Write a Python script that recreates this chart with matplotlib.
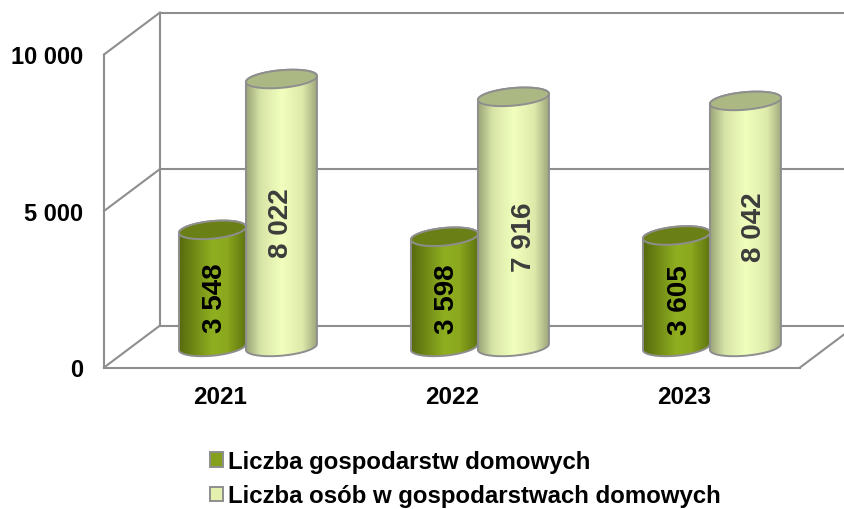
import numpy as np
import matplotlib
matplotlib.use("Agg")
import matplotlib.pyplot as plt
from matplotlib.colors import LinearSegmentedColormap
from matplotlib.patches import PathPatch, Patch
from matplotlib.path import Path

# --- data -------------------------------------------------------------
years = ["2021", "2022", "2023"]
households_labels = ["3 548", "3 598", "3 605"]
people_labels = ["8 022", "7 916", "8 042"]
# heights as they are drawn in the picture (read from the cylinders)
households_drawn = [3740, 3520, 3560]
people_drawn = [8560, 7990, 7860]
y_ticks = [0, 5000, 10000]
y_tick_labels = ["0", "5 000", "10 000"]
series_names = ["Liczba gospodarstw domowych",
                "Liczba osób w gospodarstwach domowych"]

# --- style / layout ---------------------------------------------------
W, H = 845, 510
PX_CAT = 232.0           # pixels per category
PX_VAL = 313.0 / 10000   # pixels per value unit
X0_PX, Y0_PX = 220.0, 368.5   # category 0, value 0 on the front edge
DEPTH_X, DEPTH_Y = 56.0, 42.0  # oblique offset of the back wall, in pixels
BAR_DEPTH = 0.49
LINE = "#8E8E8E"
FONT = "Liberation Sans"
FS_LEGEND = 17.3
FS_TICK = 17.0
FS_CAT = 17.5
FS_VALUE = 20.0

fig = plt.figure(figsize=(W / 100, H / 100), dpi=100, facecolor="white")
ax = fig.add_axes([0, 0, 1, 1])
ax.set_xlim((0 - X0_PX) / PX_CAT, (W - X0_PX) / PX_CAT)
ax.set_ylim((Y0_PX - H) / PX_VAL, Y0_PX / PX_VAL)
ax.axis("off")


def dx(px):
    return px / PX_CAT


def dy(px):
    return px / PX_VAL


def project(x, y, d):
    return x + dx(DEPTH_X) * d, y + dy(DEPTH_Y) * d


def line(p, q, z=1):
    ax.plot([p[0], q[0]], [p[1], q[1]], color=LINE, lw=1.5, zorder=z,
            solid_capstyle="projecting")


# walls
x_left, x_right = -0.5, 2.5
for v in y_ticks:
    line(project(x_left, v, 0), project(x_left, v, 1))
    line(project(x_left, v, 1), project(x_right, v, 1))
line(project(x_left, 0, 0), project(x_left, y_ticks[-1], 0))
line(project(x_left, 0, 1), project(x_left, y_ticks[-1], 1))
line(project(x_left, 0, 0), project(x_right, 0, 0))
line(project(x_right, 0, 0), project(x_right, 0, 1))

# y tick labels
for v, s in zip(y_ticks, y_tick_labels):
    ax.text(project(x_left, 0, 0)[0] - dx(21), v - dy(2.5), s, ha="right",
            va="center", fontsize=FS_TICK, fontweight="bold", family=FONT,
            color="black")
# category labels
for i, s in enumerate(years):
    ax.text(i, -dy(29.5), s, ha="center", va="center", fontsize=FS_CAT,
            fontweight="bold", family=FONT, color="black")

green_cmap = LinearSegmentedColormap.from_list(
    "g", [(0, "#566A0E"), (0.5, "#90AF20"), (0.72, "#8BA81E"), (1, "#5F7410")])
light_cmap = LinearSegmentedColormap.from_list(
    "l", [(0, "#9AA478"), (0.2, "#D6E3A6"), (0.5, "#F1FFBD"),
          (0.8, "#DCE9AA"), (1, "#9DA67A")])
GREEN_TOP, LIGHT_TOP = "#6B7F17", "#ABB884"
gradient = np.linspace(0, 1, 256).reshape(1, -1)


def arc(cx, cy, hw, t):
    sheer = dy(3) / dx(hw)
    xs = cx + dx(hw) * np.cos(t)
    ys = cy + sheer * dx(hw) * np.cos(t) + dy(8.8) * np.sin(t)
    return np.column_stack([xs, ys])


def cylinder(cat, offset_px, hw, value, cmap, top_color, z):
    cx, base = project(cat, 0, BAR_DEPTH)
    cx += dx(offset_px)
    top = base + value
    t_up = np.linspace(0, np.pi, 80)
    t_dn = np.linspace(np.pi, 2 * np.pi, 80)
    outline = np.vstack([arc(cx, top, hw, t_up), arc(cx, base, hw, t_dn)])
    outline = np.vstack([outline, outline[:1]])
    path = Path(outline)
    im = ax.imshow(gradient, cmap=cmap, aspect="auto", zorder=z,
                   extent=[cx - dx(hw), cx + dx(hw), base - dy(12), top + dy(12)])
    edge = PathPatch(path, facecolor="none", edgecolor=LINE, lw=1.4, zorder=z + 0.2)
    ax.add_patch(edge)
    im.set_clip_path(edge)
    ell = arc(cx, top, hw, np.linspace(0, 2 * np.pi, 160))
    ax.fill(ell[:, 0], ell[:, 1], facecolor=top_color, edgecolor=LINE, lw=1.4,
            zorder=z + 0.3)


# fine placement of the value labels relative to each cylinder, in pixels
h_nudge = [(1, -9), (1, -6), (2, -8)]
p_nudge = [(-2, -9), (9, -14), (7, -2)]
GREEN_OFF, LIGHT_OFF = -35.0, 34.0
for i in range(len(years)):
    cylinder(i, GREEN_OFF, 33.5, households_drawn[i], green_cmap, GREEN_TOP, 2 + i)
    cylinder(i, LIGHT_OFF, 35.5, people_drawn[i], light_cmap, LIGHT_TOP, 2.5 + i)
for i in range(len(years)):
    x, base = project(i, 0, BAR_DEPTH)
    ax.text(x + dx(-33.5 + h_nudge[i][0]), base + households_drawn[i] / 2 + dy(h_nudge[i][1]),
            households_labels[i], rotation=90, ha="center", va="center",
            fontsize=FS_VALUE, fontweight="bold", family=FONT, color="black", zorder=10)
    ax.text(x + dx(35.5 + p_nudge[i][0]), base + people_drawn[i] / 2 + dy(p_nudge[i][1]),
            people_labels[i], rotation=90, ha="center", va="center",
            fontsize=FS_VALUE, fontweight="bold", family=FONT, color="#3C3C3C", zorder=10)
ax.set_xlim((0 - X0_PX) / PX_CAT, (W - X0_PX) / PX_CAT)
ax.set_ylim((Y0_PX - H) / PX_VAL, Y0_PX / PX_VAL)

handles = [Patch(facecolor="#84A01C", edgecolor=LINE, lw=1.4),
           Patch(facecolor="#E3F0AE", edgecolor=LINE, lw=1.4)]
fs_px = FS_LEGEND * 100 / 72
fig.legend(handles, series_names, loc="upper left",
           bbox_to_anchor=(210 / W, 1 - 451 / H), frameon=False,
           prop={"family": FONT, "weight": "bold", "size": FS_LEGEND},
           handlelength=13 / fs_px, handleheight=13 / fs_px,
           handletextpad=5 / fs_px, labelspacing=0.47,
           borderpad=0, borderaxespad=0)

fig.savefig("out.png", dpi=100, facecolor="white")
